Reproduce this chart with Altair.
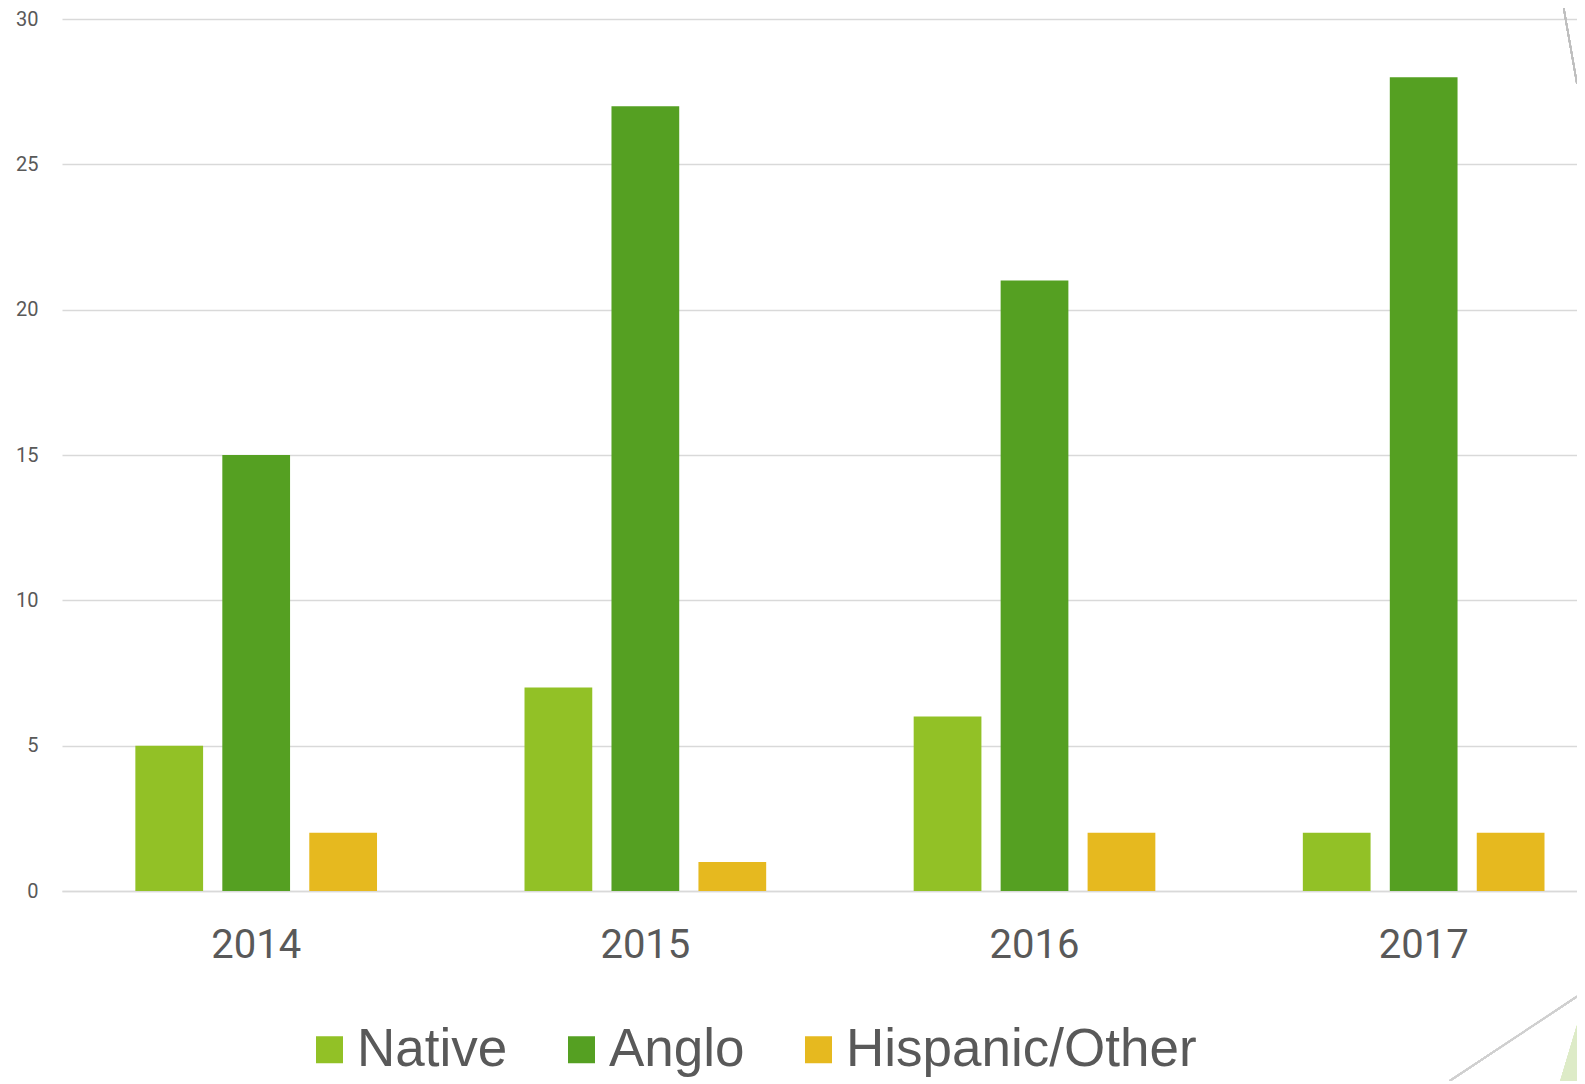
import altair as alt
import pandas as pd

years = ["2014", "2015", "2016", "2017"]
series = ["Native", "Anglo", "Hispanic/Other"]
native = [5, 7, 6, 2]
anglo = [15, 27, 21, 28]
hispanic = [2, 1, 2, 2]
colors = ["#92C126", "#55A022", "#E6B91F"]
y_ticks = [0, 5, 10, 15, 20, 25, 30]

rows = []
for name, vals in zip(series, [native, anglo, hispanic]):
    for yr, v in zip(years, vals):
        rows.append({"year": yr, "series": name, "value": v})
df = pd.DataFrame(rows)

W, H = 1515, 872

bars = alt.Chart(df).mark_bar().encode(
    x=alt.X("year:N", sort=years, title=None,
            scale=alt.Scale(paddingInner=0.379, paddingOuter=0.136, align=0.693),
            axis=alt.Axis(labelFont="Roboto", labelFontSize=40, labelColor="#595959",
                          labelPadding=34, ticks=False, domain=True,
                          domainColor="#D9D9D9", domainWidth=1.5, labelAngle=0, grid=False)),
    xOffset=alt.XOffset("series:N", sort=series,
                        scale=alt.Scale(paddingInner=0.221, paddingOuter=0)),
    y=alt.Y("value:Q", title=None,
            scale=alt.Scale(domain=[0, 30], nice=False),
            axis=alt.Axis(values=y_ticks, labelFont="Roboto", labelFontSize=20,
                          labelColor="#595959", labelPadding=24, ticks=False,
                          domain=False, grid=True, gridColor="#D9D9D9", gridWidth=1.5)),
    color=alt.Color("series:N", sort=series,
                    scale=alt.Scale(domain=series, range=colors),
                    legend=alt.Legend(title=None, orient="none", direction="horizontal",
                                      legendX=241, legendY=1004, padding=0,
                                      symbolType="square", symbolSize=729,
                                      symbolStrokeWidth=0, labelOffset=1,
                                      columnPadding=47, labelFont="Liberation Sans",
                                      labelFontSize=53, labelColor="#595959",
                                      labelLimit=600)),
)

# decorative slide elements on the right edge
line_top = alt.Chart(df).mark_rule(color="#BFBFBF", strokeWidth=1.5).encode(
    x=alt.value(1501.7), y=alt.value(-11), x2=alt.value(1515), y2=alt.value(64.8))
line_bottom = alt.Chart(df).mark_rule(color="#D0D0D0", strokeWidth=1.5).encode(
    x=alt.value(1387.6), y=alt.value(1062), x2=alt.value(1515), y2=alt.value(977.5))
tri_bottom = alt.Chart(df).mark_point(
    shape="M0.25,-0.7135 L0.25,0.675 L-0.1675,0.675 Z",
    filled=True, color="#DDEBC7", opacity=1, strokeWidth=0).encode(
    x=alt.value(1505), y=alt.value(1035), size=alt.value(6400))

chart = alt.layer(tri_bottom, line_top, line_bottom, bars).properties(
    width=W, height=H,
    autosize=alt.AutoSizeParams(type="none"),
    padding={"left": 54, "top": 11, "right": 0, "bottom": 190},
).configure_view(stroke=None)

chart.save("out.html", embed_options={"renderer": "svg", "actions": False})
